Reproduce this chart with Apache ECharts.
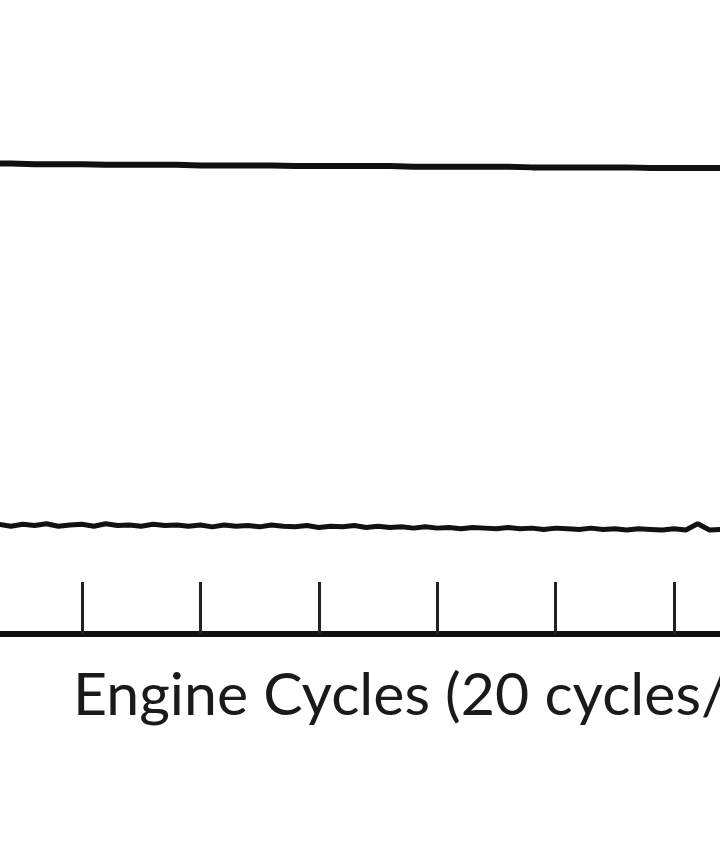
<!DOCTYPE html>
<html>
<head>
<meta charset="utf-8">
<script src="https://cdn.jsdelivr.net/npm/echarts@6/dist/echarts.min.js"></script>
<style>html,body{margin:0;padding:0;background:#fff;}#c{width:720px;height:845px;}</style>
</head>
<body>
<div id="c"></div>
<script>
// x axis: engine cycles; visible window and one tick every 20 cycles
var xMin = 6.15, xMax = 127.77;
var xTicks = [20, 40, 60, 80, 100, 120];
var axisTitle = 'Engine Cycles (20 cycles/div)';
// upper trace, sampled every 4 cycles
var upperStep = 4;
var upperTrace = [74.2,74.2,74.2,74.1,74.1,74.1,74.0,74.0,74.0,74.0,73.9,73.9,73.9,73.9,73.8,73.8,73.8,73.8,73.8,73.7,73.7,73.7,73.7,73.7,73.6,73.6,73.6,73.6,73.6,73.5,73.5,73.5,73.5,73.5,73.4,73.4];
// lower trace, sampled every 2 cycles
var lowerStep = 2;
var lowerTrace = [17.2,17.4,17.1,17.3,17.0,17.3,17.1,17.4,17.0,17.2,
                  17.3,17.0,17.4,17.1,17.2,17.0,17.3,17.1,17.2,17.0,
                  17.2,16.9,17.2,17.0,17.1,16.9,17.2,17.0,16.9,17.1,
                  16.8,17.0,16.9,17.1,16.8,17.0,16.8,16.9,16.7,16.9,
                  16.7,16.8,16.6,16.8,16.7,16.6,16.8,16.6,16.7,16.5,
                  16.7,16.6,16.5,16.7,16.5,16.6,16.4,16.6,16.5,16.4,
                  16.6,16.4,17.4,16.4,16.5,16.4,16.5,16.4,16.5,16.3,16.4];

function pairs(step, arr){ return arr.map(function(v,i){ return [i*step, v]; }); }

var chart = echarts.init(document.getElementById('c'), null, {renderer:'canvas'});
chart.setOption({
  animation: false,
  backgroundColor: '#ffffff',
  title: {
    text: axisTitle,
    left: 68, top: 658,
    textStyle: {fontFamily: 'Lato', fontSize: 59, fontWeight: 'normal', color: '#1a1a1a', lineHeight: 66}
  },
  grid: {left: 0, right: 0, top: 0, bottom: 211, containLabel: false},
  xAxis: {
    type: 'value', min: xMin, max: xMax,
    axisLine: {show: true, onZero: false, lineStyle: {color: '#111', width: 6}},
    axisTick: {show: true, inside: true, length: 52, customValues: xTicks, lineStyle: {color: '#222', width: 3}},
    axisLabel: {show: false},
    splitLine: {show: false}
  },
  yAxis: {
    type: 'value', min: 0, max: 100, show: false, splitLine: {show: false}
  },
  series: [
    {type: 'line', data: pairs(upperStep, upperTrace), symbol: 'none', smooth: false, clip: true,
     lineStyle: {color: '#111', width: 6}},
    {type: 'line', data: pairs(lowerStep, lowerTrace), symbol: 'none', smooth: false, clip: true,
     lineStyle: {color: '#111', width: 5}}
  ]
});
</script>
</body>
</html>
